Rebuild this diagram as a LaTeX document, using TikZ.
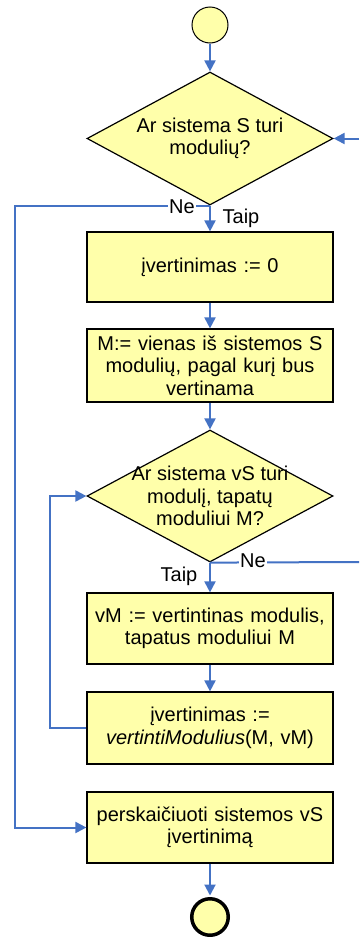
\documentclass[tikz,border=0pt]{standalone}
\usepackage{fontspec}
\setmainfont{Liberation Sans}
\usetikzlibrary{shapes.geometric,arrows.meta}
\definecolor{flowfill}{HTML}{FFFFAA}
\definecolor{flowblue}{HTML}{4472C4}
\begin{document}
\begin{tikzpicture}[x=1pt,y=-1pt,
  every node/.style={font=\fontsize{20}{22.5}\selectfont},
  procbox/.style={draw=black,line width=1.2pt,fill=flowfill,minimum width=246pt,
    inner sep=0pt,text width=244pt,align=center},
  decision/.style={draw=black,line width=1.2pt,fill=flowfill,diamond,
    minimum width=246pt,minimum height=133pt,inner sep=0pt},
  terminal/.style={draw=black,fill=flowfill,circle,inner sep=0pt},
  flow/.style={draw=flowblue,line width=2pt,-{Triangle[length=11pt,width=11pt]}},
  link/.style={draw=flowblue,line width=2pt},
  branch/.style={fill=white,inner sep=1pt},
  caption/.style={align=center}
]
\useasboundingbox (0,0) rectangle (359,937);

% terminals, decisions and process steps
\node[terminal,line width=1pt,minimum size=36pt] (start) at (210,25) {};
\node[decision] (d1) at (210,138.5) {};
\node[caption] (d1t) at (210,138.5) {Ar sistema S turi\\modulių?};
\node[procbox,minimum height=70pt] (b1) at (210,267) {įvertinimas := 0};
\node[procbox,minimum height=73pt] (b2) at (210,365.5)
  {M:= vienas iš sistemos S\\modulių, pagal kurį bus\\vertinama};
\node[decision,minimum height=132pt] (d2) at (210,496) {};
\node[caption] (d2t) at (210,496) {Ar sistema vS turi\\modulį, tapatų\\moduliui M?};
\node[procbox,minimum height=71pt] (b3) at (210,628.5)
  {vM := vertintinas modulis,\\tapatus moduliui M};
\node[procbox,minimum height=72pt] (b4) at (210,728)
  {įvertinimas :=\\\textit{vertintiModulius}(M, vM)};
\node[procbox,minimum height=71pt] (b5) at (210,827.5)
  {perskaičiuoti sistemos vS\\įvertinimą};
\node[terminal,line width=3.5pt,minimum size=36.5pt] (stop) at (210,917) {};

% free ends and rails of the loops
\coordinate (inR) at (359,138.5);
\coordinate (outR) at (359,562);
\coordinate (leftRail) at (15,0);
\coordinate (loopRail) at (50,0);

% main flow
\draw[flow] (start) -- (d1);
\draw[flow] (d1.south) -- (b1.north);
\draw[flow] (b1) -- (b2);
\draw[flow] (b2) -- (d2);
\draw[flow] (d2.south) -- (b3.north);
\draw[flow] (b3) -- (b4);
\draw[flow,shorten >=1.5pt] (b5) -- (stop);

% branches and loops
\draw[flow] (inR) -- (d1.east);
\draw[link] (d2.south) -- (outR);
\draw[flow] (d1.south) -- (d1.south -| leftRail) |- (b5.west);
\draw[flow] (b4.west) -- (b4.west -| loopRail) |- (d2.west);

% branch labels
\node[branch] (ne1) at (182,207) {Ne};
\node (taip1) at (241,218) {Taip};
\node[branch] (ne2) at (253,561) {Ne};
\node (taip2) at (179,576) {Taip};
\end{tikzpicture}
\end{document}
